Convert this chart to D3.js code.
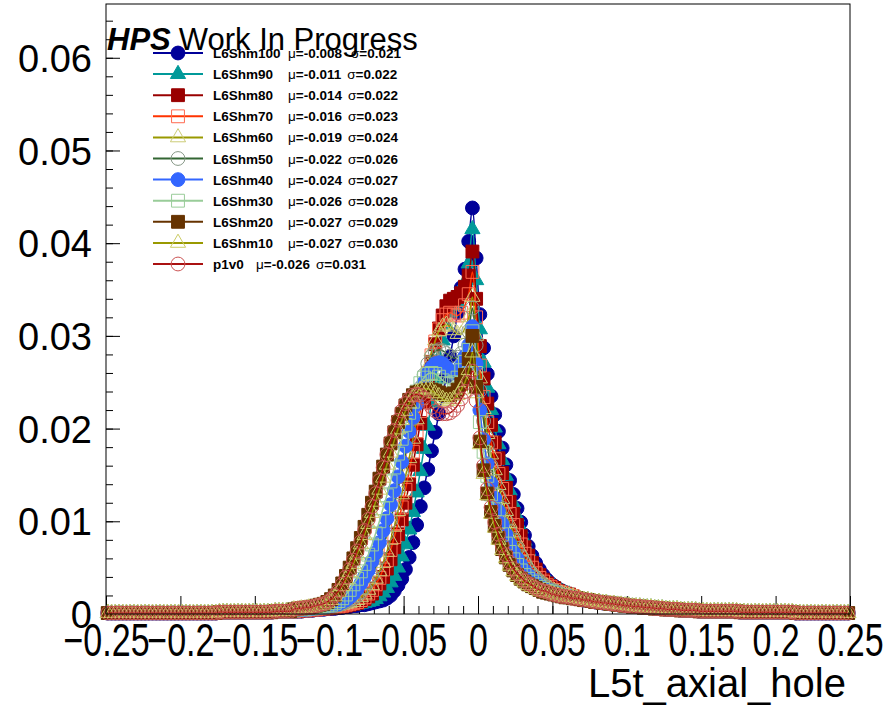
<!DOCTYPE html>
<html><head><meta charset="utf-8">
<script src="https://cdn.jsdelivr.net/npm/d3@7"></script>
<style>body{margin:0;background:#fff}svg{display:block}text{font-family:"Liberation Sans",Arial,Helvetica,sans-serif}</style>
</head><body><svg id="c" width="890" height="706"></svg>
<script>
// ---------------- data ----------------
const names = ["L6Shm100","L6Shm90","L6Shm80","L6Shm70","L6Shm60","L6Shm50","L6Shm40","L6Shm30","L6Shm20","L6Shm10","p1v0"];
const means = ["-0.008","-0.011","-0.014","-0.016","-0.019","-0.022","-0.024","-0.026","-0.027","-0.027","-0.026"];
const sigmas = ["0.021","0.022","0.022","0.023","0.024","0.026","0.027","0.028","0.029","0.030","0.031"];
const xTicks = [-0.25,-0.2,-0.15,-0.1,-0.05,0,0.05,0.1,0.15,0.2,0.25];
const yTicks = [0,0.01,0.02,0.03,0.04,0.05,0.06];
const binLow = -0.25, binHigh = 0.25, nBins = 200;

// bins 0..49 (shared far-left tail)
const tailLeft = [.0001,.0001,.0001,.0001,.0001,.0001,.0001,.0001,.0001,.0001,
.0001,.0001,.0001,.0001,.0001,.0001,.0001,.0001,.0001,.0001,
.0001,.0001,.0001,.0001,.0001,.0001,.0001,.0001,.0001,.0001,
.0002,.0002,.0002,.0002,.0002,.0002,.0002,.0002,.0002,.0002,
.0002,.0002,.0002,.0002,.0002,.0003,.0003,.0003,.0003,.0003];
// bins 126..199 (shared far-right tail)
const tailRight = [.0017,.0016,.0015,.0015,.0014,.0013,.0013,.0012,.0012,.0011,.0011,.0010,.0010,.0009,.0009,.0008,.0008,.0008,.0007,.0007,.0007,.0006,.0006,.0006,.0005,.0005,.0005,.0005,.0004,.0004,.0004,.0004,.0004,
.0003,.0003,.0003,.0003,.0003,.0003,.0003,.0003,.0003,.0003,.0003,
.0002,.0002,.0002,.0002,.0002,.0002,.0002,.0002,.0002,.0002,.0002,.0002,.0002,.0002,.0002,
.0001,.0001,.0001,.0001,.0001,.0001,.0001,.0001,.0001,.0001,.0001,.0001,.0001,.0001,.0001];

// bins 50..125 per series
const core100 = [.0003,.0003,.0003,.0004,.0004,.0004,.0005,.0005,.0005,.0006,
.0006,.0006,.0007,.0007,.0008,.0008,.0009,.0009,.0010,.0010,
.0011,.0012,.0013,.0014,.0015,.0017,.0020,.0025,.0031,.0038,
.0048,.0061,.0077,.0096,.0116,.0136,.0156,.0176,.0196,.0216,
.0236,.0256,.0278,.0300,.0325,.0352,.0372,.0402,.0438,.0384,
.0323,.0287,.0259,.0235,.0215,.0197,.0179,.0161,.0144,.0129,
.0114,.0099,.0085,.0073,.0063,.0055,.0048,.0042,.0037,.0033,
.0030,.0027,.0025,.0023,.0021,.0019];
const core90 = [.0003,.0003,.0003,.0004,.0004,.0004,.0005,.0005,.0005,.0006,
.0006,.0007,.0007,.0008,.0008,.0009,.0009,.0010,.0011,.0012,
.0013,.0014,.0016,.0019,.0023,.0028,.0034,.0041,.0050,.0062,
.0075,.0091,.0110,.0131,.0154,.0178,.0203,.0228,.0253,.0276,
.0295,.0312,.0325,.0332,.0336,.0345,.0358,.0378,.0415,.0360,
.0307,.0271,.0244,.0220,.0201,.0183,.0166,.0149,.0133,.0119,
.0105,.0092,.0079,.0068,.0059,.0052,.0045,.0040,.0035,.0032,
.0029,.0026,.0024,.0022,.0021,.0019];
const core80 = [.0003,.0003,.0004,.0004,.0004,.0005,.0005,.0006,.0006,.0006,
.0007,.0007,.0008,.0008,.0009,.0010,.0011,.0012,.0014,.0016,
.0019,.0022,.0027,.0033,.0040,.0049,.0059,.0072,.0086,.0102,
.0120,.0140,.0161,.0183,.0206,.0229,.0251,.0272,.0291,.0308,
.0322,.0332,.0338,.0340,.0342,.0346,.0353,.0365,.0391,.0340,
.0289,.0254,.0227,.0204,.0185,.0168,.0152,.0136,.0121,.0108,
.0096,.0084,.0072,.0063,.0055,.0048,.0042,.0037,.0033,.0030,
.0028,.0025,.0023,.0022,.0021,.0019];
const core70 = [.0003,.0004,.0004,.0004,.0005,.0005,.0005,.0006,.0006,.0007,
.0007,.0008,.0008,.0009,.0010,.0011,.0012,.0013,.0015,.0018,
.0022,.0026,.0032,.0039,.0048,.0058,.0069,.0083,.0098,.0115,
.0134,.0154,.0175,.0197,.0219,.0240,.0260,.0279,.0294,.0307,
.0317,.0323,.0325,.0323,.0322,.0325,.0333,.0345,.0369,.0320,
.0268,.0234,.0207,.0185,.0167,.0151,.0135,.0121,.0108,.0096,
.0085,.0075,.0065,.0057,.0050,.0044,.0039,.0035,.0031,.0029,
.0026,.0024,.0023,.0021,.0020,.0019];
const core60 = [.0004,.0004,.0004,.0005,.0005,.0005,.0006,.0006,.0007,.0007,
.0008,.0008,.0009,.0010,.0011,.0012,.0013,.0015,.0018,.0021,
.0026,.0031,.0038,.0046,.0055,.0067,.0080,.0094,.0111,.0129,
.0148,.0168,.0189,.0210,.0231,.0250,.0267,.0283,.0295,.0305,
.0310,.0312,.0310,.0306,.0302,.0302,.0308,.0320,.0342,.0300,
.0254,.0221,.0194,.0172,.0155,.0139,.0124,.0111,.0098,.0088,
.0078,.0068,.0060,.0052,.0046,.0041,.0037,.0033,.0030,.0027,
.0025,.0023,.0022,.0021,.0020,.0019];
const core50 = [.0004,.0004,.0005,.0005,.0005,.0006,.0006,.0007,.0007,.0008,
.0009,.0009,.0010,.0011,.0013,.0015,.0017,.0020,.0024,.0029,
.0035,.0042,.0051,.0061,.0073,.0086,.0101,.0118,.0135,.0154,
.0173,.0192,.0211,.0228,.0244,.0258,.0270,.0278,.0283,.0285,
.0284,.0281,.0278,.0276,.0277,.0281,.0290,.0305,.0330,.0290,
.0241,.0208,.0182,.0160,.0143,.0128,.0114,.0101,.0089,.0080,
.0071,.0062,.0055,.0048,.0043,.0039,.0035,.0031,.0029,.0026,
.0025,.0023,.0021,.0020,.0019,.0018];
const core40 = [.0004,.0005,.0005,.0005,.0006,.0006,.0007,.0007,.0008,.0008,
.0009,.0010,.0011,.0013,.0015,.0018,.0022,.0027,.0033,.0040,
.0047,.0057,.0066,.0077,.0090,.0103,.0118,.0133,.0148,.0164,
.0181,.0197,.0212,.0226,.0239,.0250,.0259,.0266,.0270,.0271,
.0270,.0266,.0262,.0260,.0262,.0268,.0278,.0290,.0310,.0270,
.0220,.0188,.0162,.0141,.0125,.0111,.0097,.0086,.0076,.0067,
.0060,.0053,.0047,.0042,.0038,.0035,.0031,.0028,.0026,.0025,
.0023,.0022,.0020,.0019,.0019,.0018];
const core30 = [.0005,.0005,.0005,.0006,.0006,.0007,.0007,.0008,.0008,.0009,
.0010,.0012,.0014,.0017,.0021,.0026,.0032,.0038,.0046,.0054,
.0064,.0075,.0087,.0100,.0114,.0128,.0143,.0158,.0173,.0189,
.0204,.0217,.0229,.0240,.0249,.0255,.0259,.0260,.0259,.0256,
.0252,.0249,.0248,.0250,.0255,.0263,.0272,.0285,.0305,.0260,
.0207,.0175,.0149,.0129,.0113,.0099,.0086,.0076,.0067,.0059,
.0053,.0047,.0042,.0038,.0035,.0032,.0029,.0027,.0025,.0024,
.0022,.0021,.0020,.0019,.0018,.0017];
const core20 = [.0005,.0006,.0006,.0007,.0007,.0008,.0009,.0010,.0011,.0013,
.0016,.0020,.0026,.0033,.0041,.0050,.0060,.0071,.0082,.0094,
.0107,.0120,.0132,.0146,.0159,.0172,.0184,.0196,.0207,.0216,
.0225,.0231,.0236,.0239,.0240,.0241,.0242,.0242,.0241,.0239,
.0237,.0236,.0236,.0238,.0242,.0248,.0258,.0275,.0300,.0245,
.0186,.0155,.0130,.0110,.0095,.0082,.0070,.0061,.0053,.0047,
.0042,.0038,.0035,.0032,.0030,.0028,.0026,.0024,.0023,.0022,
.0021,.0020,.0019,.0018,.0018,.0017];
const core10 = [.0005,.0005,.0006,.0006,.0007,.0007,.0008,.0009,.0010,.0012,
.0015,.0019,.0024,.0030,.0037,.0045,.0054,.0064,.0075,.0085,
.0097,.0109,.0121,.0134,.0147,.0161,.0174,.0187,.0199,.0209,
.0219,.0227,.0234,.0239,.0242,.0243,.0243,.0241,.0238,.0235,
.0232,.0230,.0230,.0232,.0236,.0242,.0250,.0263,.0282,.0238,
.0183,.0151,.0128,.0108,.0093,.0080,.0069,.0060,.0052,.0046,
.0041,.0037,.0034,.0031,.0029,.0027,.0025,.0024,.0023,.0022,
.0021,.0020,.0019,.0018,.0018,.0017];
const coreP1v0 = [.0005,.0006,.0006,.0007,.0007,.0008,.0009,.0010,.0011,.0013,
.0016,.0020,.0025,.0032,.0040,.0048,.0058,.0068,.0078,.0090,
.0102,.0116,.0130,.0144,.0158,.0172,.0186,.0198,.0209,.0219,
.0227,.0232,.0236,.0237,.0236,.0233,.0228,.0223,.0219,.0217,
.0216,.0216,.0217,.0220,.0225,.0232,.0240,.0250,.0262,.0230,
.0190,.0160,.0135,.0115,.0099,.0086,.0074,.0064,.0056,.0049,
.0044,.0040,.0036,.0033,.0031,.0028,.0026,.0025,.0024,.0022,
.0021,.0020,.0019,.0019,.0018,.0017];
const cores = [core100,core90,core80,core70,core60,core50,core40,core30,core20,core10,coreP1v0];

// ---------------- styles ----------------
const styles = [
 {line:"#000099", mk:"circle",   fill:"#000099", stroke:"#000099"},
 {line:"#009999", mk:"triangle", fill:"#009999", stroke:"#009999"},
 {line:"#990000", mk:"square",   fill:"#990000", stroke:"#990000"},
 {line:"#ff3300", mk:"square",   fill:"none",    stroke:"#ff6a50"},
 {line:"#999900", mk:"triangle", fill:"none",    stroke:"#cccc77"},
 {line:"#336633", mk:"circle",   fill:"none",    stroke:"#889988"},
 {line:"#3366ff", mk:"circle",   fill:"#3366ff", stroke:"#3366ff"},
 {line:"#99cc99", mk:"square",   fill:"none",    stroke:"#99cc99"},
 {line:"#663300", mk:"square",   fill:"#663300", stroke:"#663300"},
 {line:"#999900", mk:"triangle", fill:"none",    stroke:"#cccc66"},
 {line:"#aa1111", mk:"circle",   fill:"none",    stroke:"#cc5555"}
];
const symType = {circle:d3.symbolCircle, square:d3.symbolSquare, triangle:d3.symbolTriangle};
const symSize = {circle:150, square:165, triangle:100};

// ---------------- chart ----------------
const svg = d3.select("#c");
const x = d3.scaleLinear().domain([binLow, binHigh]).range([106, 850]);
const y = d3.scaleLinear().domain([0, 0.0658]).range([614, 4]);
const binW = (binHigh - binLow) / nBins;
const centers = d3.range(nBins).map(i => binLow + binW * (i + 0.5));

// minor ticks
svg.append("g").attr("transform","translate(0,614)")
  .call(d3.axisBottom(x).tickValues(d3.range(-25,26).map(k=>k/100)).tickSizeInner(-8).tickSizeOuter(0).tickFormat(""))
  .call(g=>g.select(".domain").remove());
svg.append("g").attr("transform","translate(106,0)")
  .call(d3.axisLeft(y).tickValues(d3.range(0,33).map(k=>k*0.002)).tickSizeInner(-7).tickSizeOuter(0).tickFormat(""))
  .call(g=>g.select(".domain").remove());

const fmt = d => d === 0 ? "0" : (d < 0 ? "\u2212" : "") + String(+Math.abs(d).toFixed(2));
// major x axis
const gx = svg.append("g").attr("transform","translate(0,614)")
  .call(d3.axisBottom(x).tickValues(xTicks).tickSizeInner(-18).tickSizeOuter(0).tickFormat(fmt));
gx.select(".domain").remove();
gx.selectAll(".tick text").attr("y",0).attr("dy",0)
  .attr("transform","translate(0,42) scale(0.74,1)")
  .attr("font-size",46).attr("font-family","Liberation Sans, Arial, sans-serif").attr("fill","#000");
// major y axis
const gy = svg.append("g").attr("transform","translate(106,0)")
  .call(d3.axisLeft(y).tickValues(yTicks).tickSizeInner(-14).tickSizeOuter(0).tickPadding(14).tickFormat(d=>d===0?"0":d3.format(".2f")(d)));
gy.select(".domain").remove();
gy.selectAll(".tick text").attr("font-size",38).attr("dy","0.36em").attr("font-family","Liberation Sans, Arial, sans-serif").attr("fill","#000");
svg.selectAll(".tick line").attr("stroke","#000");

// series
cores.forEach((core, k) => {
  const vals = tailLeft.concat(core, tailRight);
  const pts = vals.map((v, i) => [centers[i], v]);
  const st = styles[k];
  const g = svg.append("g");
  g.append("path")
    .attr("d", d3.line().x(d=>x(d[0])).y(d=>y(d[1])).curve(d3.curveCatmullRom)(pts))
    .attr("fill","none").attr("stroke",st.line).attr("stroke-width",1.5);
  const sym = d3.symbol(symType[st.mk], symSize[st.mk]);
  g.selectAll("path.m").data(pts).join("path").attr("class","m")
    .attr("transform", d=>`translate(${x(d[0])},${y(d[1])})`)
    .attr("d", sym)
    .attr("fill", st.fill).attr("stroke", st.stroke).attr("stroke-width", 1);
});

// frame
svg.append("rect").attr("x",x.range()[0]).attr("y",y.range()[1])
  .attr("width",x.range()[1]-x.range()[0]).attr("height",y.range()[0]-y.range()[1])
  .attr("fill","none").attr("stroke","#000").attr("stroke-width",1);

// axis title
svg.append("text").attr("x",846).attr("y",697)
  .attr("text-anchor","end").attr("font-size",40).text("L5t_axial_hole");

// HPS label
const hps = svg.append("text").attr("x",107).attr("y",50).attr("font-size",31);
hps.append("tspan").attr("font-weight","bold").attr("font-style","italic").text("HPS");
hps.append("tspan").attr("dx",8).text("Work In Progress");

// legend
names.forEach((n, k) => {
  const ry = 53 + k * 21.1;
  const st = styles[k];
  const lg = svg.append("g");
  lg.append("line").attr("x1",153).attr("x2",203).attr("y1",ry).attr("y2",ry)
    .attr("stroke",st.line).attr("stroke-width",2);
  lg.append("path").attr("transform",`translate(178,${ry})`)
    .attr("d", d3.symbol(symType[st.mk], symSize[st.mk])())
    .attr("fill",st.fill).attr("stroke",st.stroke).attr("stroke-width",1);
  const t = lg.append("text").attr("x",213).attr("y",ry+5).attr("font-size",13.5).attr("font-weight","bold");
  t.append("tspan").text(n);
  const muX = n === "p1v0" ? 256 : 288;
  t.append("tspan").attr("x",muX).attr("font-weight","normal").text("\u03bc");
  t.append("tspan").text("=" + means[k]);
  t.append("tspan").attr("dx", k === 0 ? 9 : 6).attr("font-weight","normal").text("\u03c3");
  t.append("tspan").text("=" + sigmas[k]);
});
</script>
</body></html>
